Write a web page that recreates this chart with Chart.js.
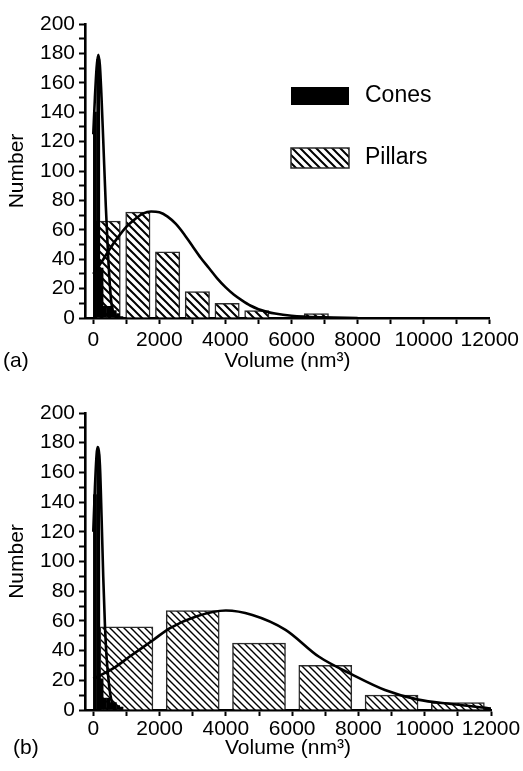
<!DOCTYPE html>
<html>
<head>
<meta charset="utf-8">
<script src="https://cdn.jsdelivr.net/npm/chart.js@4.4.1/dist/chart.umd.min.js"></script>
<style>
  body { margin: 0; background: #fff; }
  #wrap { position: relative; width: 523px; height: 771px; }
  canvas { position: absolute; left: 0; }
  #chartA { top: 0; }
  #chartB { top: 385px; }
</style>
</head>
<body>
<div id="wrap">
  <canvas id="chartA" width="523" height="385"></canvas>
  <canvas id="chartB" width="523" height="386"></canvas>
</div>
<script>
// Ticks (shared by both panels)
const xTicks = [0, 1000, 2000, 3000, 4000, 5000, 6000, 7000, 8000, 9000, 10000, 11000, 12000];
const xTickLabels = ['0', '', '2000', '', '4000', '', '6000', '', '8000', '', '10000', '', '12000'];
const yTicks = [0, 10, 20, 30, 40, 50, 60, 70, 80, 90, 100, 110, 120, 130, 140, 150, 160, 170, 180, 190, 200];
const yTickLabels = ['0', '', '20', '', '40', '', '60', '', '80', '', '100', '', '120', '', '140', '', '160', '', '180', '', '200'];

// Panel (a) histograms
const conesBinsA = [50, 150, 250, 350, 450, 550, 650, 750, 850];
const conesCountA = [140, 176, 34, 8, 8, 8, 5, 3, 1];
const pillarsBinsA = [450, 1350, 2250, 3150, 4050, 4950, 6750];
const pillarsCountA = [66, 72, 45, 18, 10, 5, 3];

// Panel (a) fitted curves
const conesFitXA = [0, 50, 100, 150, 200, 250, 300, 380, 450, 540, 600, 700];
const conesFitYA = [125, 150, 170, 179, 172, 150, 122, 76, 42, 12, 4, 0];
const pillarsFitXA = [0, 250, 500, 750, 1000, 1250, 1500, 1750, 2000, 2250, 2500, 2750, 3000, 3250, 3500, 3750, 4000, 4250, 4500, 4750, 5000, 5250, 5500, 6000, 7000, 8000];
const pillarsFitYA = [30, 38, 47, 55, 62, 67, 71, 72.5, 72, 69, 64, 57, 49, 41, 34, 27, 21, 16, 12, 8.5, 6, 4.3, 3, 1.5, 0.4, 0];

// Panel (b) histograms
const conesBinsB = [50, 150, 250, 350, 450, 550, 650, 750, 850];
const conesCountB = [145, 172, 21, 8, 8, 5, 5, 3, 2];
const pillarsBinsB = [1000, 3000, 5000, 7000, 9000, 11000];
const pillarsCountB = [56, 67, 45, 30, 10, 5];

// Panel (b) fitted curves
const conesFitXB = [0, 50, 100, 130, 200, 250, 300, 350, 400, 480, 550, 620, 700];
const conesFitYB = [120, 150, 172, 177, 165, 130, 90, 58, 36, 16, 6, 1, 0];
const pillarsFitXB = [0, 600, 1100, 1800, 2300, 3100, 4000, 4800, 5800, 6800, 7800, 8800, 9800, 10800, 12000];
const pillarsFitYB = [21, 28, 36, 47, 55, 63, 67, 64, 54, 36, 24, 13.5, 7, 4, 1];

const FONT = '"Liberation Sans", Arial, Helvetica, sans-serif';

// diagonal "\\\\" hatch for the pillar bars
function makeHatch(s, lw) {
    const c = document.createElement('canvas');
    c.width = s; c.height = s;
    const g = c.getContext('2d');
    g.fillStyle = '#fff';
    g.fillRect(0, 0, s, s);
    g.strokeStyle = '#000';
    g.lineWidth = lw;
    g.beginPath();
    g.moveTo(-1, -1); g.lineTo(s + 1, s + 1);
    g.moveTo(-1, s - 1); g.lineTo(1, s + 1);
    g.moveTo(s - 1, -1); g.lineTo(s + 1, 1);
    g.stroke();
    return g.createPattern(c, 'repeat');
}

function pts(xs, ys) {
    return xs.map((x, i) => ({ x: x, y: ys[i] }));
}

// bar width in pixels = bin width on the x axis * fraction
function binPx(chart, w, pct) {
    const s = chart.scales.x;
    if (!s) return undefined;
    const v = Math.abs(s.getPixelForValue(w) - s.getPixelForValue(0)) * pct;
    return isFinite(v) && v > 0 ? v : undefined;
}

// panel tag "(a)"/"(b)" and the legend of panel (a)
const panelText = {
    id: 'panelText',
    afterDraw(chart, args, opts) {
        const c = chart.ctx;
        c.save();
        c.fillStyle = '#000';
        c.textBaseline = 'middle';
        c.textAlign = 'left';
        c.font = '21px ' + FONT;
        c.fillText(opts.tag, opts.tagX, opts.tagY);
        if (opts.legend) {
            c.font = '23px ' + FONT;
            opts.legend.forEach(item => {
                const ds = chart.data.datasets[item.index];
                c.fillStyle = ds.backgroundColor;
                c.fillRect(item.x, item.y, item.w, item.h);
                if (ds.borderWidth) {
                    c.strokeStyle = ds.borderColor;
                    c.lineWidth = ds.borderWidth;
                    c.strokeRect(item.x, item.y, item.w, item.h);
                }
                c.fillStyle = '#000';
                c.fillText(ds.label, item.x + item.w + 16, item.y + item.h / 2);
            });
        }
        c.restore();
    }
};

function makeChart(id, p) {
    const ctx = document.getElementById(id).getContext('2d');
    const coneW = p.conesBins[1] - p.conesBins[0];
    const pillarW = p.pillarsBins[1] - p.pillarsBins[0];
    return new Chart(ctx, {
        type: 'bar',
        data: {
            datasets: [
                {
                    type: 'line', label: 'Cones fit', data: pts(p.conesFitX, p.conesFitY),
                    borderColor: '#000', borderWidth: 2.6, pointRadius: 0,
                    cubicInterpolationMode: 'monotone', order: 0
                },
                {
                    type: 'line', label: 'Pillars fit', data: pts(p.pillarsFitX, p.pillarsFitY),
                    borderColor: '#000', borderWidth: 2.6, pointRadius: 0,
                    cubicInterpolationMode: 'monotone', order: 0
                },
                {
                    // same stack id so the two histograms overlap instead of sitting side by side
                    label: 'Cones', data: pts(p.conesBins, p.conesCount), stack: 'hist',
                    backgroundColor: '#000', borderWidth: 0,
                    barThickness: c => binPx(c.chart, coneW, 0.95),
                    order: 1
                },
                {
                    label: 'Pillars', data: pts(p.pillarsBins, p.pillarsCount), stack: 'hist',
                    backgroundColor: makeHatch(p.hatch, p.hatchWidth),
                    borderColor: '#2a2a2a', borderWidth: 1.5,
                    barThickness: c => binPx(c.chart, pillarW, p.barPct),
                    order: 2
                }
            ]
        },
        options: {
            responsive: false,
            animation: false,
            layout: { padding: { top: p.top, right: 32, bottom: 0, left: 0 } },
            plugins: {
                legend: { display: false },
                tooltip: { enabled: false },
                panelText: { tag: p.tag, tagX: p.tagX, tagY: p.tagY, legend: p.legend }
            },
            scales: {
                x: {
                    type: 'linear', min: -250, max: 12000, offset: false,
                    afterBuildTicks: s => { s.ticks = xTicks.map(v => ({ value: v })); },
                    afterFit: s => { s.height = p.xAxisHeight; },
                    ticks: {
                        autoSkip: false, maxRotation: 0, padding: p.xLabelPad, color: '#000',
                        font: { family: FONT, size: 21 },
                        callback: (v, i) => xTickLabels[i]
                    },
                    grid: { display: true, drawOnChartArea: false, offset: false, tickLength: 6, tickWidth: 2, tickColor: '#000' },
                    border: { display: true, color: '#000', width: 2.6 },
                    title: {
                        display: true, text: 'Volume (nm³)', color: '#000',
                        font: { family: FONT, size: 21 }, padding: { top: 0, bottom: p.titlePad }
                    }
                },
                y: {
                    min: 0, max: 200, stacked: false,
                    afterBuildTicks: s => { s.ticks = yTicks.map(v => ({ value: v })); },
                    afterFit: s => { s.width = 85; },
                    ticks: {
                        autoSkip: false, padding: 4, color: '#000',
                        font: { family: FONT, size: 21 },
                        callback: (v, i) => yTickLabels[i]
                    },
                    grid: { display: true, drawOnChartArea: false, tickLength: 6, tickWidth: 2, tickColor: '#000' },
                    border: { display: true, color: '#000', width: 2.6 },
                    title: {
                        display: true, text: 'Number', color: '#000',
                        font: { family: FONT, size: 21 }, padding: { top: 5, bottom: 0 }
                    }
                }
            }
        },
        plugins: [panelText]
    });
}

// (a)
makeChart('chartA', {
    conesBins: conesBinsA, conesCount: conesCountA,
    pillarsBins: pillarsBinsA, pillarsCount: pillarsCountA,
    conesFitX: conesFitXA, conesFitY: conesFitYA,
    pillarsFitX: pillarsFitXA, pillarsFitY: pillarsFitYA,
    hatch: 8, hatchWidth: 2, barPct: 0.82,
    top: 24, xAxisHeight: 67, xLabelPad: 4, titlePad: 11,
    tag: '(a)', tagX: 3, tagY: 361,
    legend: [
        { index: 2, x: 291, y: 87, w: 58, h: 18 },
        { index: 3, x: 291, y: 148, w: 58, h: 20 }
    ]
});

// (b)
makeChart('chartB', {
    conesBins: conesBinsB, conesCount: conesCountB,
    pillarsBins: pillarsBinsB, pillarsCount: pillarsCountB,
    conesFitX: conesFitXB, conesFitY: conesFitYB,
    pillarsFitX: pillarsFitXB, pillarsFitY: pillarsFitYB,
    hatch: 7, hatchWidth: 1.4, barPct: 0.8,
    top: 28, xAxisHeight: 61, xLabelPad: 1, titlePad: 10,
    tag: '(b)', tagX: 13, tagY: 363,
    legend: null
});
</script>
</body>
</html>
